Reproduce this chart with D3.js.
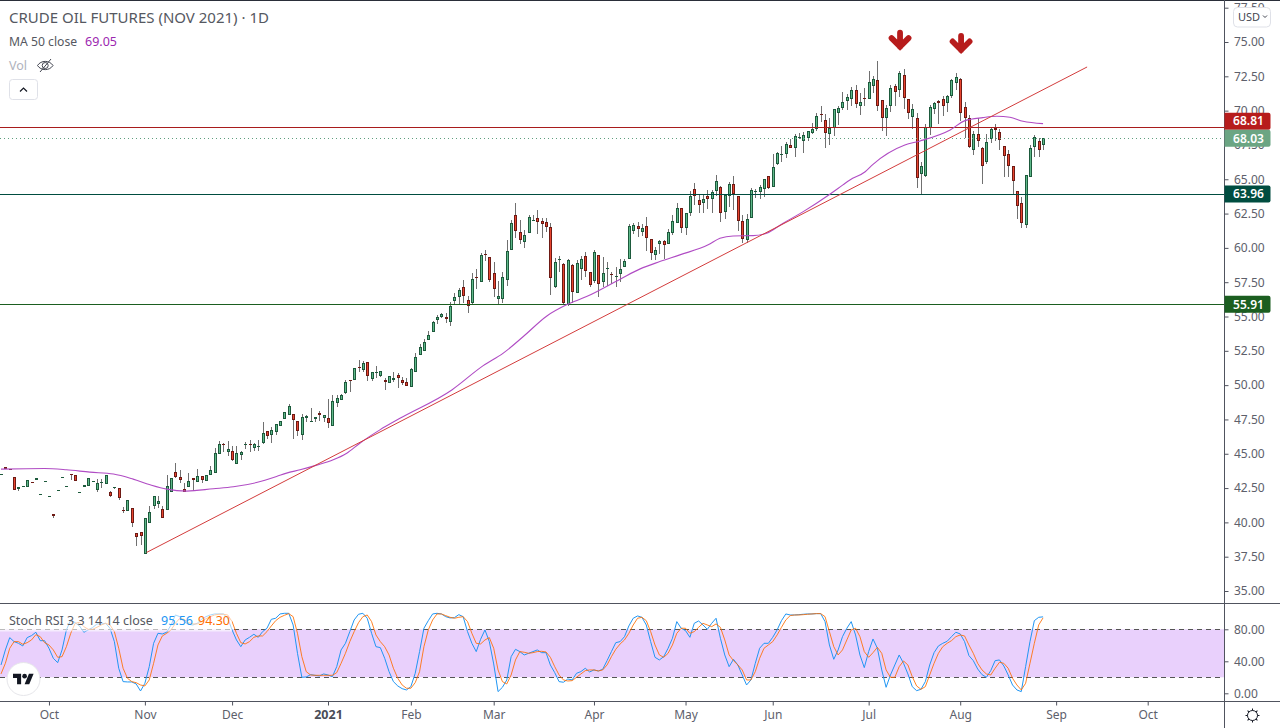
<!DOCTYPE html>
<html><head><meta charset="utf-8">
<script src="https://cdnjs.cloudflare.com/ajax/libs/d3/7.8.5/d3.min.js"></script>
<style>
html,body{margin:0;padding:0;background:#fff;overflow:hidden}
svg{display:block}
text{font-family:"Noto Sans",sans-serif}
</style></head><body><svg id="c" width="1280" height="728"></svg>
<script>
const opens=[
43.51,44.03,43.89,43.30,42.40,42.64,42.55,42.94,43.06,42.06,
43.00,41.91,40.61,42.35,43.29,42.64,43.52,43.45,42.20,42.60,
42.62,43.00,42.38,42.93,42.77,42.21,42.52,42.50,40.92,40.80,
41.05,39.22,39.29,37.67,39.99,41.21,41.36,40.97,40.87,42.18,
43.67,43.30,42.43,42.55,43.23,42.91,43.38,42.98,43.42,43.57,
44.95,45.73,45.16,45.20,44.22,44.89,45.72,45.68,45.39,45.58,
45.80,46.65,46.34,46.62,46.99,47.52,47.81,47.89,47.38,46.40,
47.64,47.34,47.50,47.98,47.64,47.60,47.01,48.73,48.88,49.39,
50.39,50.36,51.31,51.11,51.72,50.41,50.98,50.63,50.36,50.19,
50.34,50.73,50.36,50.22,49.88,50.99,52.16,52.52,53.32,53.90,
54.78,54.96,54.95,54.63,56.16,56.45,57.13,56.19,56.02,57.88,
57.53,59.54,59.31,58.16,56.30,56.30,57.67,59.88,62.38,61.14,
60.46,61.11,62.02,62.16,61.94,61.87,61.51,57.18,59.16,58.81,
55.87,58.74,56.70,58.45,59.39,58.23,57.57,59.46,57.54,58.49,
58.11,57.93,58.13,58.64,59.22,61.26,61.58,61.18,61.58,60.63,
59.51,60.31,60.49,60.31,61.11,61.84,62.88,61.48,62.57,64.27,
63.47,63.29,63.76,63.58,64.17,64.42,62.64,63.80,64.64,63.76,
61.94,60.60,62.16,64.14,64.10,64.32,65.22,64.46,66.14,66.86,
66.87,67.48,67.30,68.05,67.81,68.03,68.35,68.66,69.73,69.30,
68.32,68.71,69.85,70.17,70.73,70.87,71.48,70.36,70.90,70.87,
71.82,72.21,70.75,69.49,70.36,71.77,71.48,72.57,70.83,69.56,
69.44,65.41,65.26,68.71,70.10,70.68,70.83,70.58,71.05,71.99,
72.28,70.24,69.44,67.16,68.28,67.26,66.24,67.91,68.75,68.42,
67.41,66.82,65.95,64.13,63.25,61.70,65.19,67.33,67.77,67.48];
const closes=[
43.52,43.91,43.78,42.33,42.57,42.65,43.08,42.84,43.23,42.07,
43.01,41.92,40.43,42.36,43.30,42.65,43.51,42.98,42.21,42.72,
43.23,43.01,42.87,42.94,43.45,41.94,42.57,41.74,40.80,41.63,
39.95,38.95,39.02,40.32,40.75,41.92,41.56,40.29,42.65,43.23,
43.33,43.06,42.23,43.01,43.06,43.38,43.11,43.45,43.81,45.05,
45.73,45.61,45.38,44.56,45.05,45.12,45.73,45.67,45.73,45.59,
46.51,46.26,46.73,47.16,47.40,48.03,48.47,47.43,46.69,47.67,
47.74,47.35,47.67,47.79,47.81,47.25,48.83,49.05,49.27,50.22,
50.38,51.24,51.30,51.60,50.70,50.95,50.99,51.02,50.24,50.63,
50.51,50.55,50.12,49.97,51.17,52.04,52.77,53.13,53.64,54.59,
54.97,55.20,54.85,55.75,56.41,56.92,56.52,55.80,57.72,57.87,
59.47,59.53,57.65,57.00,56.48,57.86,59.76,61.80,61.21,60.60,
60.92,62.23,62.03,61.91,61.72,61.55,57.79,58.96,59.17,55.97,
59.10,56.78,58.88,59.17,58.30,57.26,59.68,57.35,58.16,58.50,
58.10,57.94,58.45,59.03,61.58,61.65,61.36,61.43,60.75,59.65,
59.83,60.49,60.24,61.14,61.94,62.88,61.48,62.52,63.76,63.81,
63.13,63.56,63.58,64.05,64.85,62.57,63.88,64.64,63.95,61.94,
60.67,62.09,64.20,64.15,64.42,65.00,64.39,65.87,66.89,66.87,
67.55,67.30,68.13,68.06,68.20,68.50,68.64,69.59,69.72,68.39,
68.76,70.10,70.17,70.61,71.00,71.48,70.51,70.63,70.89,72.07,
72.28,70.36,69.44,70.17,71.63,71.38,72.72,70.94,69.85,70.10,
65.07,65.95,68.83,70.24,70.54,70.54,70.36,71.05,72.21,72.43,
69.85,69.44,67.33,68.28,67.77,65.95,67.70,68.64,68.57,67.84,
66.68,65.95,64.85,63.08,61.80,65.29,67.26,68.06,67.11,68.03];
const highs=[
43.52,44.03,43.89,43.30,42.57,42.65,43.08,42.94,43.23,42.07,
43.01,41.92,40.61,42.36,43.30,42.65,43.52,43.45,42.21,42.72,
43.23,43.01,43.16,43.16,43.45,42.31,42.57,42.50,41.14,41.63,
41.05,39.22,39.29,40.32,41.21,41.92,41.94,41.21,43.47,43.23,
44.34,43.83,42.89,43.62,43.23,43.91,43.38,43.45,44.10,45.42,
45.90,45.80,45.90,45.54,45.59,45.22,45.87,46.02,45.78,46.02,
47.28,46.65,46.97,47.16,47.40,48.03,48.64,47.89,47.38,47.91,
47.84,48.35,47.67,48.13,47.81,49.00,49.29,49.29,49.35,50.39,
50.39,51.24,51.84,51.79,51.72,50.99,51.38,51.02,50.53,50.63,
50.95,50.87,50.58,50.51,51.25,52.33,52.99,53.38,53.96,54.66,
55.12,55.27,55.29,56.05,56.72,57.06,57.67,56.53,58.16,58.45,
59.64,59.83,59.35,58.98,57.57,58.25,60.56,62.03,63.25,62.03,
61.29,62.40,62.40,62.76,62.16,62.16,61.82,59.25,59.41,58.90,
59.20,58.80,59.12,59.41,59.70,58.23,59.83,59.46,59.31,59.00,
58.23,58.60,59.17,59.22,61.75,61.80,61.92,61.75,62.25,60.63,
60.09,60.58,60.58,61.38,62.38,63.27,62.88,62.52,64.15,64.73,
63.90,63.85,64.22,64.19,65.31,64.50,63.88,64.80,65.24,63.76,
62.40,62.47,64.37,64.32,64.59,65.04,65.25,66.82,67.01,67.43,
67.72,67.91,68.30,68.35,68.45,68.50,69.08,69.81,70.34,69.76,
69.44,70.12,70.34,71.36,71.19,71.74,71.87,71.26,71.67,72.89,
72.50,73.62,70.75,70.39,71.85,71.92,72.87,73.03,70.83,70.46,
69.81,66.26,69.01,70.39,70.60,70.78,71.05,71.12,72.28,72.72,
72.35,70.63,69.68,68.50,69.44,67.33,68.28,68.75,69.02,68.64,
67.45,67.11,65.95,64.13,63.69,65.29,67.48,68.20,67.99,68.03];
const lows=[
43.51,43.91,43.78,42.33,42.31,42.64,42.55,42.84,43.06,42.06,
43.00,41.91,40.29,42.35,43.29,42.64,43.06,42.98,42.20,42.60,
42.62,43.00,42.18,42.47,42.77,41.87,42.44,41.65,40.65,40.80,
39.68,38.30,38.37,37.67,39.99,40.94,41.05,40.29,40.87,42.18,
43.25,42.87,42.18,42.55,42.25,42.91,42.89,42.98,43.42,43.57,
44.95,45.16,44.80,44.44,44.22,44.56,45.31,45.16,45.22,45.17,
45.70,46.11,45.75,46.33,46.99,47.52,47.81,46.04,46.26,45.97,
47.31,47.30,47.31,47.35,47.31,46.89,47.01,48.44,48.88,49.32,
49.51,50.36,50.92,50.92,50.29,50.31,50.55,50.58,49.66,50.12,
50.24,49.80,50.04,49.90,49.88,50.99,52.16,52.52,53.32,53.90,
54.42,54.89,54.56,54.34,55.93,55.90,55.98,55.29,55.87,57.04,
57.50,59.07,57.52,56.42,55.93,55.98,57.25,59.85,60.70,60.31,
60.01,61.11,61.96,61.02,60.75,61.16,56.57,57.10,58.25,55.85,
55.80,55.98,56.70,57.67,57.88,57.18,57.43,56.45,57.18,57.21,
57.35,57.18,57.52,58.64,59.22,61.02,60.82,60.89,59.80,59.12,
59.12,59.56,59.17,60.31,60.96,61.84,61.09,60.97,62.35,63.13,
62.53,62.57,62.82,62.57,63.81,61.91,62.11,63.00,62.77,61.23,
60.34,60.38,62.16,63.66,63.59,63.73,64.32,64.46,66.02,66.28,
66.53,67.25,66.65,67.96,66.94,67.81,68.30,68.54,69.20,67.30,
67.52,68.18,68.96,70.05,70.05,70.34,70.17,69.71,70.34,70.87,
71.26,70.00,68.54,68.15,69.92,70.34,71.02,70.14,69.41,68.69,
64.37,63.88,65.19,68.25,69.76,69.05,69.61,69.92,70.90,71.50,
69.27,67.99,67.30,66.79,67.37,64.68,66.12,67.62,67.81,67.13,
65.19,65.19,63.88,62.11,61.48,61.48,65.19,66.60,66.65,67.13];
const maIndex=[0,10,15,20.4,25.8,30.3,34.2,38,42.6,48.7,53.3,58.6,63.2,65.5,68.6,72.4,76.2,79.3,82.3,86.9,91.5,103.4,110.6,115.2,119.8,125.2,129.7,134.3,142,146.6,151.1,155.7,162.2,164.9,167.9,172.5,175.6,179.4,184,190.1,193.1,194.7,198.2,200,207.3,210.8,217.7,221.1,225.2,228.4,231.4,234.4,239];
const maValues=[43.88,43.92,43.83,43.66,43.52,43.15,42.74,42.42,42.28,42.45,42.59,42.9,43.34,43.59,43.83,44.17,44.56,45.04,45.77,46.74,47.58,49.65,51.42,52.33,53.54,55.04,55.85,56.45,57.72,58.47,59,59.49,60.22,60.7,60.87,60.89,61.07,61.8,62.64,63.91,64.59,64.95,65.55,66.09,67.5,67.79,68.59,69.27,69.49,69.59,69.52,69.22,69.05];
const stochK=[
35.4,54.2,69.6,64.6,62.5,59.2,69.6,72.1,76.3,65.8,
65.8,56.3,43.8,38.3,54.2,79.2,91.7,88.3,84.2,76.3,
79.2,82.1,86.7,86.7,87.5,81.3,64.6,31.3,14.6,14.2,
14.2,11.7,2.9,12.5,33.3,62.5,75,74.2,76.3,85.4,
97.9,95.8,89.6,86.3,85.4,87.5,92.5,95.8,97.9,99.2,
99.2,99.2,93.8,79.2,66.7,58.3,66.7,70,73.8,70,
77.1,81.3,92.5,93.8,99.2,100,100,85.4,50,20,
20.4,23.3,22.5,21.7,24.2,22.9,20.8,33.3,54.2,62.5,
77.1,91.7,98.8,100,93.8,75,58.3,57.1,43.8,27.1,
14.6,9.2,5.8,4.2,8.3,25,52.1,81.3,90.8,99.2,
100,99.2,95.8,94.2,94.6,98.3,95.8,77.1,62.5,52.1,
67.5,79.2,64.6,36.7,2.1,7.5,16.7,45.8,55,52.1,
47.9,50,52.1,54.2,50.8,50.8,35.4,25.8,14.6,13.8,
17.9,16.7,25,27.1,31.3,26.7,29.2,27.9,30,40.8,
52.1,63.3,64.6,70.8,84.2,93.8,96.7,95,85.4,64.6,
45,41.7,45.8,56.3,68.8,89.6,81.3,78.3,70,87.5,
90.4,85.4,80,87.5,93.8,68.8,47.9,33.3,42.5,35.4,
22.9,10.4,16.7,37.5,56.3,62.5,62.5,70,79.2,90.8,
99.2,97.9,97.9,98.3,98.8,99.2,99.2,99.6,99.6,89.6,
60.4,42.5,54.2,70.8,81.3,89.6,72.9,47.9,32.1,52.1,
67.9,56.3,29.2,7.5,22.9,35.4,47.9,37.5,24.2,8.3,
3.3,5,14.6,35.4,50.8,59.2,62.5,65,70.8,76.3,
74.2,64.6,47.1,40.8,30.4,23.3,20,28.3,40.8,41.7,
34.2,22.9,10.4,4.2,2.1,33.3,64.6,90.8,95,95.56];
const stochD=[
24.2,37.5,56.3,64.6,64.6,61.3,63.3,66.7,73.3,70.8,
63.3,60.4,54.2,45,45.8,58.3,75,87.5,88.8,83.3,
80,80,82.5,85.4,87.5,85.4,77.1,56.3,31.3,18.8,
14.6,13.3,10.4,9.2,16.7,37.5,60.4,71.7,75,79.2,
87.5,93.8,92.5,88.3,86.7,86.7,89.2,93.3,95.8,97.9,
98.8,98.8,97.9,89.6,75,63.3,61.7,64.6,70,71.7,
71.7,77.1,84.2,90.8,95,97.5,99.6,95.8,75,45.8,
27.1,22.9,22.5,22.5,22.5,22.5,22.5,25.8,37.5,50,
64.6,77.1,88.3,95.8,97.9,89.6,72.9,64.6,58.3,47.9,
31.3,18.8,10.4,6.3,6.3,13.3,27.1,58.3,79.2,91.7,
99.2,99.2,97.1,95,93.8,95,95.8,89.6,75,62.5,
61.7,66.7,69.6,56.3,29.2,14.6,11.7,22.9,41.7,52.1,
51.3,50,50.8,52.1,52.5,51.7,45,33.3,22.9,16.7,
15.4,15.8,20,24.2,28.3,29.2,29.2,27.9,29.2,35.4,
45.8,55,61.7,66.7,75,85.4,93.8,95,90.8,77.1,
60.4,47.9,45,50,60.4,75,81.3,81.3,75,77.1,
82.5,87.5,85.4,83.3,86.7,82.5,66.7,47.9,40.8,35.4,
29.2,16.7,16.7,27.1,43.8,56.3,60.4,64.6,72.9,82.5,
91.7,97.1,97.9,97.9,98.3,98.8,99.2,99.6,99.6,95.8,
77.1,58.3,47.9,54.2,66.7,79.2,81.3,70.8,52.1,45,
50.8,57.5,50,29.2,20,20,33.3,40.4,35.4,20.8,
9.2,5,8.3,22.9,37.5,50,58.3,62.5,65.8,70.8,
72.9,71.7,60.4,50,37.5,29.2,24.2,22.9,31.3,38.8,
37.5,31.3,18.8,10.4,4.2,12.5,37.5,62.5,85.4,94.30];
const monthTicks=[11,33,53,75,94,113,136,157,177,199,220,242,263];
const monthLabels=["Oct","Nov","Dec","2021","Feb","Mar","Apr","May","Jun","Jul","Aug","Sep","Oct"];
const priceTicks=[35,37.5,40,42.5,45,47.5,50,52.5,55,57.5,60,62.5,65,67.5,70,72.5,75,77.5];
const stochTicks=[0,40,80];
const levelValues=[68.81,63.96,55.91];
const levelColors=["#a81c1c","#004d40","#1b5e20"];
const tagValues=[68.81,68.03,63.96,55.91];
const tagColors=["#b71c1c","#6ba583","#004d40","#1b5e20"];
const tagNudge=[-5.8,0.6,0.6,0.3];
const trendIndex=[33.4,249.1];
const trendValues=[37.81,73.18];
const arrowIndex=[206.2,220.2];
const arrowValues=[74.37,74.13];
const lastClose=68.03;

const W=1280,H=728,axisX=1224.5,paneTop=603.5,paneBottom=701.5;
const svg=d3.select("#c");
const x=d3.scaleLinear().domain([0,263]).range([1,1147.7]);
const y=d3.scaleLinear().domain([35,75]).range([591,42]);
const ys=d3.scaleLinear().domain([0,80]).range([693.3,629.3]);
const n=closes.length,idx=d3.range(n);
const px=v=>Math.round(v);
const UPB="#1d5a3c",DNB="#6e1a14",WICK="#707070";

// stoch band
svg.append("rect").attr("x",0).attr("width",axisX).attr("y",ys(80)).attr("height",ys(20)-ys(80)).attr("fill","#e9d0fc");
svg.append("g").selectAll("line").data([80,20]).join("line")
  .attr("x1",0).attr("x2",axisX).attr("y1",d=>Math.round(ys(d))+.5).attr("y2",d=>Math.round(ys(d))+.5)
  .attr("stroke","#555").attr("stroke-dasharray","5,4");

// wicks
svg.append("g").selectAll("rect").data(idx).join("rect")
  .attr("x",i=>px(x(i))).attr("width",1)
  .attr("y",i=>Math.round(y(highs[i])))
  .attr("height",i=>Math.max(1,Math.round(y(lows[i]))-Math.round(y(highs[i]))))
  .attr("fill",WICK);
// bodies
const bodyTop=i=>Math.round(y(Math.max(opens[i],closes[i])));
const bodyH=i=>Math.max(1,Math.round(y(Math.min(opens[i],closes[i])))-bodyTop(i));
svg.append("g").selectAll("rect").data(idx).join("rect")
  .attr("x",i=>px(x(i))-1).attr("width",3).attr("y",bodyTop).attr("height",bodyH)
  .attr("fill",i=>closes[i]>=opens[i]?UPB:DNB);
svg.append("g").selectAll("rect").data(idx.filter(i=>bodyH(i)>2)).join("rect")
  .attr("x",i=>px(x(i))).attr("width",1).attr("y",i=>bodyTop(i)+1).attr("height",i=>bodyH(i)-2)
  .attr("fill",i=>closes[i]>=opens[i]?"#5fb98a":"#e8452f");

// horizontal levels
svg.append("g").selectAll("line").data(levelValues).join("line")
  .attr("x1",0).attr("x2",axisX).attr("y1",d=>Math.round(y(d))+.5).attr("y2",d=>Math.round(y(d))+.5)
  .attr("stroke",(d,i)=>levelColors[i]);
svg.append("line").attr("x1",0).attr("x2",axisX).attr("y1",Math.round(y(lastClose))+.5).attr("y2",Math.round(y(lastClose))+.5)
  .attr("stroke","#5e9e7e").attr("stroke-dasharray","1,3");

// MA
svg.append("path").attr("fill","none").attr("stroke","#b04cc4").attr("stroke-width",1.1)
  .attr("d",d3.line().x((d,i)=>x(maIndex[i])).y(d=>y(d)).curve(d3.curveMonotoneX)(maValues));
// trend
svg.append("path").attr("fill","none").attr("stroke","#d33c3c").attr("stroke-width",1)
  .attr("d",d3.line().x((d,i)=>x(trendIndex[i])).y(d=>y(d))(trendValues));
// arrows
const ag=svg.append("g").selectAll("g").data(arrowValues).join("g")
  .attr("transform",(d,i)=>`translate(${x(arrowIndex[i])},${y(d)})`);
ag.append("path").attr("d","M0,-18V-4M-8.5,-12.5L0,-4L8.5,-12.5").attr("fill","none").attr("stroke","#b71c1c").attr("stroke-width",5.8).attr("stroke-linejoin","miter").attr("stroke-linecap","round");

// stoch lines
svg.append("path").attr("fill","none").attr("stroke","#2196f3").attr("stroke-width",1)
  .attr("d",d3.line().x((d,i)=>x(i)).y(d=>ys(d))(stochK));
svg.append("path").attr("fill","none").attr("stroke","#ff6d00").attr("stroke-width",.85)
  .attr("d",d3.line().x((d,i)=>x(i)).y(d=>ys(d))(stochD));
svg.append("rect").attr("x",0).attr("y",612).attr("width",232).attr("height",19.5).attr("fill","#fff").attr("opacity",.6);

// frame
const FR="#50535e";
svg.append("rect").attr("width",W).attr("height",1).attr("fill","#2a2e39");
[paneTop,paneBottom].forEach(v=>svg.append("line").attr("x1",0).attr("x2",W).attr("y1",v).attr("y2",v).attr("stroke",FR));

// axes
function style(g){
  g.select(".domain").attr("stroke",FR);
  g.selectAll(".tick line").attr("stroke",FR);
  g.selectAll("text").attr("fill","#5d606b").style("font-size","12px").style("font-family",'"Noto Sans",sans-serif');
}
const ra=svg.append("g").attr("transform",`translate(${axisX},0)`)
  .call(d3.axisRight(y).tickValues(priceTicks).tickFormat(d3.format(".2f")).tickSize(4).tickPadding(5.5));
ra.select(".domain").remove();
style(ra);
const rs=svg.append("g").attr("transform",`translate(${axisX},0)`)
  .call(d3.axisRight(ys).tickValues(stochTicks).tickFormat(d3.format(".2f")).tickSize(4).tickPadding(5.5));
rs.select(".domain").remove();
style(rs);
svg.append("line").attr("x1",axisX).attr("x2",axisX).attr("y1",0).attr("y2",H).attr("stroke",FR);
const ba=svg.append("g").attr("transform",`translate(0,${paneBottom})`)
  .call(d3.axisBottom(x).tickValues(monthTicks).tickFormat((d,i)=>monthLabels[i]).tickSize(4).tickPadding(5));
ba.select(".domain").remove();
style(ba);
ba.selectAll("text").filter((d,i)=>monthLabels[i]==="2021").style("font-weight",700).style("font-size","12.5px").attr("fill","#4a4d57");

// tags
const tg=svg.append("g").selectAll("g").data(tagValues).join("g")
  .attr("transform",(d,i)=>`translate(${axisX},${y(d)+tagNudge[i]})`);
tg.append("path").attr("d","M0,-8.5H44a2,2 0 0 1 2,2V6.5a2,2 0 0 1 -2,2H0Z").attr("fill",(d,i)=>tagColors[i]);
tg.append("text").attr("x",24).attr("y",4.3).attr("text-anchor","middle").attr("fill","#fff")
  .attr("font-size",12).attr("font-weight",600).text(d=>d.toFixed(2));

// USD button
svg.append("rect").attr("x",1233.5).attr("y",7.5).attr("width",37).attr("height",19.5).attr("rx",4)
  .attr("fill","#fff").attr("stroke","#dfe1e8");
svg.append("text").attr("x",1238).attr("y",21).attr("font-size",11).attr("fill","#434651").text("USD");
svg.append("path").attr("d","M1263,15.5l2,2l2,-2").attr("fill","none").attr("stroke","#434651");

// legends
svg.append("text").attr("x",9).attr("y",22.5).attr("font-size",15).attr("fill","#555861").text("CRUDE OIL FUTURES (NOV 2021) · 1D");
svg.append("text").attr("x",9).attr("y",45.5).attr("font-size",12.2).attr("fill","#555861").text("MA 50 close");
svg.append("text").attr("x",85).attr("y",45.5).attr("font-size",12.5).attr("fill","#9c27b0").text("69.05");
svg.append("text").attr("x",9).attr("y",69.5).attr("font-size",12.5).attr("fill","#b0b3bd").text("Vol");
svg.append("path").attr("d","M37.5,65.5c3.5,-5.5 12,-5.5 15.5,0c-3.5,5.5 -12,5.5 -15.5,0ZM40,72L51,59").attr("fill","none").attr("stroke","#434651");
svg.append("circle").attr("cx",45.2).attr("cy",65.5).attr("r",3).attr("fill","none").attr("stroke","#434651");
svg.append("rect").attr("x",9.5).attr("y",79.5).attr("width",28).attr("height",20).attr("rx",3).attr("fill","#fff").attr("stroke","#dfe1e8");
svg.append("path").attr("d","M20,91.5l3.5,-3.5l3.5,3.5").attr("fill","none").attr("stroke","#131722").attr("stroke-width",1.2);

svg.append("text").attr("x",9).attr("y",624.5).attr("font-size",12.5).attr("fill","#555861").text("Stoch RSI 3 3 14 14 close");
svg.append("text").attr("x",161).attr("y",624.5).attr("font-size",12.5).attr("fill","#2196f3").text("95.56");
svg.append("text").attr("x",198).attr("y",624.5).attr("font-size",12.5).attr("fill","#ff6d00").text("94.30");

// logo
svg.append("circle").attr("cx",23.5).attr("cy",679).attr("r",16.5).attr("fill","#fff").attr("stroke","#e6e6ea");
const logo=svg.append("g").attr("transform","translate(13,671.5) scale(.58)").attr("fill","#131722");
logo.append("path").attr("d","M14 22H7V11H0V4h14v18zM28 22h-8l7.5-18h8L28 22z");
logo.append("circle").attr("cx",20).attr("cy",8).attr("r",4);

// gear
const gr=svg.append("g").attr("transform","translate(1252.5,715.5)").attr("stroke","#131722").attr("fill","none");
gr.append("circle").attr("r",5);
gr.selectAll("line").data(d3.range(8)).join("line").attr("x1",0).attr("x2",0).attr("y1",-5).attr("y2",-7)
  .attr("transform",d=>`rotate(${d*45})`);
</script></body></html>
